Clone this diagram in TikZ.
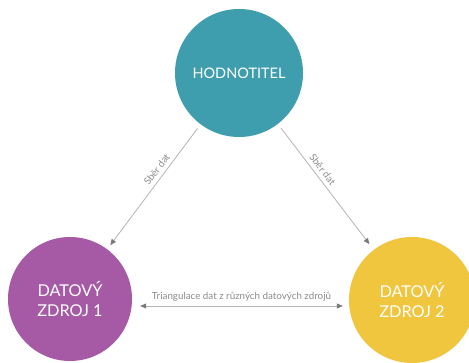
\documentclass[tikz,border=0pt]{standalone}
\usepackage{fontspec}
\setmainfont{Lato}
\usetikzlibrary{arrows.meta}
\definecolor{teal1}{HTML}{3F9EAE}
\definecolor{purp1}{HTML}{A65AA6}
\definecolor{yell1}{HTML}{F0C63E}
\definecolor{linegray}{HTML}{B4B4B4}
\definecolor{tipgray}{HTML}{7A7A7A}
\definecolor{labgray}{HTML}{8C8C8C}
\tikzset{
  bubble/.style={circle, inner sep=0pt, text=white, align=center, font=\fontsize{16.3}{20}\selectfont},
  conn/.style={draw=linegray, line width=0.8pt, -{Triangle[length=6pt,width=5pt,fill=tipgray,color=tipgray]}},
  conn2/.style={draw=linegray, line width=0.8pt, {Triangle[length=6pt,width=5pt,fill=tipgray,color=tipgray]}-{Triangle[length=6pt,width=5pt,fill=tipgray,color=tipgray]}},
  lab/.style={text=labgray, font=\fontsize{9.8}{11}\selectfont, inner sep=1pt}
}
\begin{document}
\begin{tikzpicture}[x=1pt,y=-1pt]
\useasboundingbox[fill=white] (0,0) rectangle (469,363);
\node[bubble, fill=teal1, minimum size=128pt, font=\fontsize{14.5}{20}\selectfont] (top) at (239,73) {HODNOTITEL};
\node[bubble, fill=purp1, minimum size=124pt] (left) at (70,299) {DATOVÝ\\ZDROJ 1};
\node[bubble, fill=yell1, minimum size=126pt] (right) at (412,300) {DATOVÝ\\ZDROJ 2};
\draw[conn, shorten <=5pt, shorten >=5pt] (top) -- node[lab, sloped, above=3pt, pos=0.4] {Sběr dat} (left);
\draw[conn, shorten <=5pt, shorten >=7pt] (top) -- node[lab, sloped, above=3pt, pos=0.4] {Sběr dat} (right);
\coordinate (hl) at ([xshift=8pt, yshift=-7pt]left.east);
\coordinate (hr) at ([xshift=-6pt, yshift=-6pt]right.west);
\draw[conn2] (hl) -- node[lab, above=3pt] {Triangulace dat z různých datových zdrojů} (hr);
\end{tikzpicture}
\end{document}
